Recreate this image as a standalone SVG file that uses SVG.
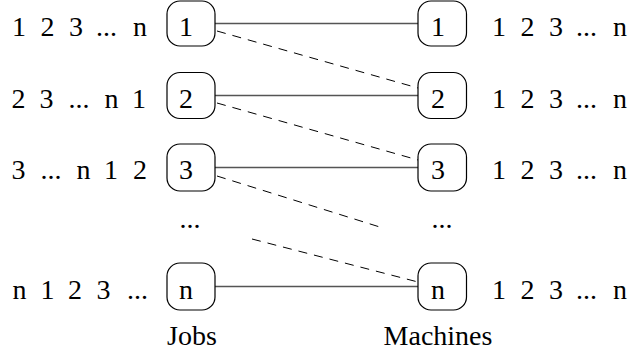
<svg xmlns="http://www.w3.org/2000/svg" width="629" height="356" viewBox="0 0 629 356">
<style>
  .t { font-family: 'Liberation Serif', 'Nimbus Roman', 'Nimbus Roman No9 L', FreeSerif, 'Noto Serif', 'DejaVu Serif', Tinos, 'Times New Roman', Times, serif; font-size: 28px; fill: #000; text-anchor: middle; }
  .box { fill: #fff; stroke: #000; stroke-width: 1.2; }
  .solid { stroke: #555; stroke-width: 1.6; fill: none; }
  .dash { stroke: #000; stroke-width: 1; stroke-dasharray: 9 7; fill: none; }
</style>
<rect width="629" height="356" fill="#fff"/>
<g id="connectors">
  <line class="solid" x1="215" y1="23.5" x2="418" y2="23.5"/>
  <line class="solid" x1="215" y1="95.5" x2="418" y2="95.5"/>
  <line class="solid" x1="215" y1="167.5" x2="418" y2="167.5"/>
  <line class="solid" x1="215" y1="286.5" x2="418" y2="286.5"/>
  <line class="dash" x1="217" y1="31" x2="418" y2="88"/>
  <line class="dash" x1="217" y1="103" x2="418" y2="160"/>
  <line class="dash" x1="217" y1="176" x2="383" y2="228"/>
  <line class="dash" x1="252" y1="239" x2="418" y2="282"/>
</g>
<g id="job1"><rect class="box" x="167" y="1" width="48" height="45" rx="13"/><text class="t" x="186" y="36">1</text></g>
<g id="job2"><rect class="box" x="167" y="72.5" width="48" height="46" rx="13"/><text class="t" x="186" y="108">2</text></g>
<g id="job3"><rect class="box" x="167" y="144" width="48" height="47" rx="13"/><text class="t" x="186" y="179">3</text></g>
<g id="jobn"><rect class="box" x="167" y="263" width="48" height="47" rx="13"/><text class="t" x="186" y="299">n</text></g>
<g id="machine1"><rect class="box" x="418" y="1" width="48.5" height="45" rx="13"/><text class="t" x="438" y="36">1</text></g>
<g id="machine2"><rect class="box" x="418" y="72.5" width="48.5" height="46" rx="13"/><text class="t" x="438" y="108">2</text></g>
<g id="machine3"><rect class="box" x="418" y="144" width="48.5" height="47" rx="13"/><text class="t" x="438" y="179">3</text></g>
<g id="machinen"><rect class="box" x="418" y="263" width="48.5" height="47" rx="13"/><text class="t" x="438" y="299">n</text></g>
<g id="job-sequences">
  <text class="t" y="36"><tspan x="19">1</tspan><tspan x="47.5">2</tspan><tspan x="76">3</tspan><tspan x="106.5">...</tspan><tspan x="140">n</tspan></text>
  <text class="t" y="108"><tspan x="18.5">2</tspan><tspan x="46.5">3</tspan><tspan x="79">...</tspan><tspan x="111.5">n</tspan><tspan x="139">1</tspan></text>
  <text class="t" y="179"><tspan x="18.5">3</tspan><tspan x="51">...</tspan><tspan x="83.5">n</tspan><tspan x="111">1</tspan><tspan x="140">2</tspan></text>
  <text class="t" y="299"><tspan x="19.5">n</tspan><tspan x="47.5">1</tspan><tspan x="75">2</tspan><tspan x="103.5">3</tspan><tspan x="137.5">...</tspan></text>
</g>
<g id="machine-sequences">
  <text class="t" y="36"><tspan x="499">1</tspan><tspan x="527.5">2</tspan><tspan x="556">3</tspan><tspan x="586.5">...</tspan><tspan x="620">n</tspan></text>
  <text class="t" y="108"><tspan x="499">1</tspan><tspan x="527.5">2</tspan><tspan x="556">3</tspan><tspan x="586.5">...</tspan><tspan x="620">n</tspan></text>
  <text class="t" y="179"><tspan x="499">1</tspan><tspan x="527.5">2</tspan><tspan x="556">3</tspan><tspan x="586.5">...</tspan><tspan x="620">n</tspan></text>
  <text class="t" y="299"><tspan x="499">1</tspan><tspan x="527.5">2</tspan><tspan x="556">3</tspan><tspan x="586.5">...</tspan><tspan x="620">n</tspan></text>
</g>
<g id="ellipsis">
  <text class="t" x="190" y="228">...</text>
  <text class="t" x="442" y="228">...</text>
</g>
<g id="labels">
  <text class="t" x="192" y="345">Jobs</text>
  <text class="t" x="438" y="345">Machines</text>
</g>
</svg>
